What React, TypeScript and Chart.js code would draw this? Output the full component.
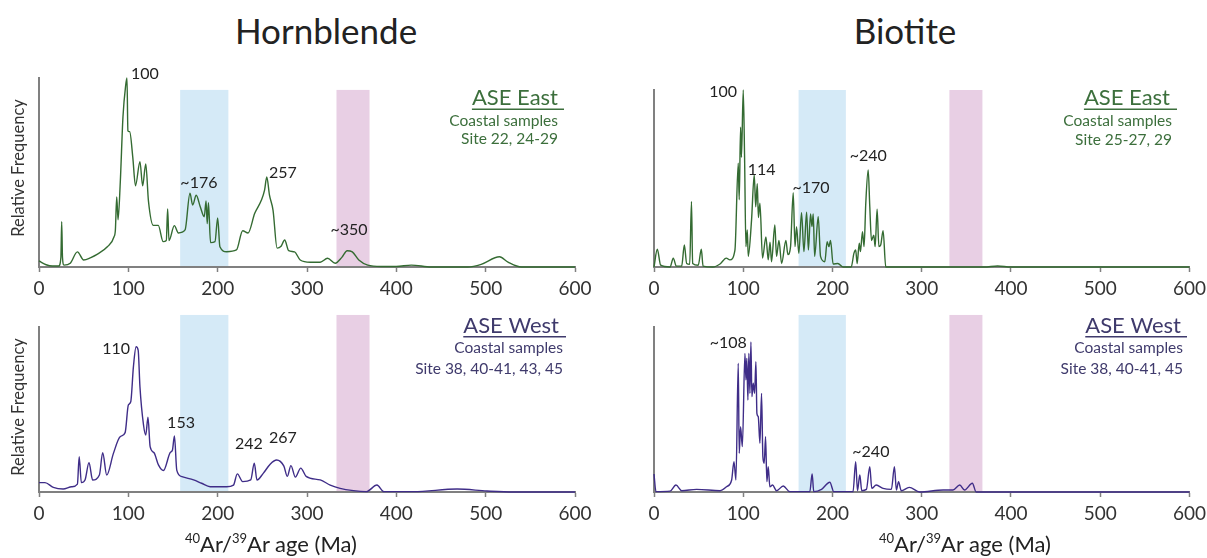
import React, { useEffect, useRef } from 'react';
import { Chart, registerables } from 'chart.js';

Chart.register(...registerables);
Chart.defaults.font.family = 'Lato';

// ---------- data ----------
const AGE_TICKS = [0, 100, 200, 300, 400, 500, 600];

const hbBlueBand = [158, 212];
const hbPinkBand = [333, 370];
const btBlueBand = [162, 215];
const btPinkBand = [331, 368];

// Hornblende, ASE East
const hbEastAge = [0, 8, 15, 22, 24.5, 25.4, 26.3, 28, 35, 43, 50, 58, 65, 76.5, 84, 85.5, 87, 88.5, 91, 94, 97, 98.5, 99.5, 101.5, 105, 108, 113, 116, 119.5, 122.5, 128, 133.5, 139, 142.5, 144, 145.5, 151.5, 156, 163.5, 169, 172, 176, 180.5, 185, 187, 188.3, 189.7, 192, 197, 200, 202.5, 210, 221, 228, 234, 241.5, 249, 252.5, 255, 258, 262, 266.5, 271, 275, 279.5, 286, 292.4, 303.6, 314.8, 323, 331.6, 339, 345, 350.7, 358, 368, 383, 400, 416.8, 439, 480, 495, 515.5, 525, 540, 600];
const hbEastFreq = [3.2, 1.2, 0.5, 0.5, 5, 24, 5, 1, 2, 8, 3.7, 5, 6.7, 10.7, 16, 19.6, 37, 25, 45, 79.5, 96, 100, 72, 71.6, 58, 43, 55.7, 43, 54.5, 35, 22, 22, 13.4, 14, 30.7, 14, 21.9, 18, 19.6, 39, 32.8, 38, 31.9, 26.6, 35, 23, 34, 12.9, 13.4, 26, 10.7, 8.1, 9, 19.2, 18, 28.4, 35.4, 40.7, 47.6, 38, 30, 10, 11, 14.3, 8.6, 8, 3.7, 2.5, 2.5, 4.6, 2, 5.1, 8.6, 8, 3.7, 1, 0.3, 0.3, 1, 0, 0, 1.4, 5.4, 2.6, 0, 0];

// Biotite, ASE East
const btEastAge = [0, 3.7, 7.5, 18, 21.6, 25, 31, 34, 36.6, 40, 42, 43.3, 49.6, 53, 55, 66, 74, 81, 85, 90.7, 94.4, 95.5, 97, 98, 100, 101.5, 103, 104.5, 105.6, 109.3, 112.3, 114, 115.7, 117, 118.7, 121.6, 125.4, 128, 130, 131.7, 135.4, 137.3, 140, 143, 147.8, 150, 153, 156, 158, 159.7, 162.3, 165.3, 168, 171, 173, 175.4, 177, 178.4, 180, 184, 186.6, 191.4, 194, 196, 197.8, 200.7, 206, 212, 221, 224, 226, 227.6, 230, 231.3, 233.6, 235.4, 237.3, 240, 241.8, 243.7, 246.3, 247.8, 250, 252, 254, 256.7, 259.7, 300, 370, 385, 400, 600];
const btEastFreq = [0, 10, 1, 0, 5, 0.5, 0.5, 12.4, 2, 1.5, 37, 2, 1, 10, 0.5, 0, 1.7, 5, 4, 9.6, 58.6, 38, 79, 62, 100, 62, 11.5, 21, 6, 26.5, 52, 34, 47, 28, 36, 5, 17, 4, 14, 3, 23.7, 6, 15, 2, 15, 7, 11.5, 42, 11.5, 22.8, 7.7, 30.7, 8.7, 31, 9.6, 30, 22.8, 30, 6, 28.4, 6, 3, 14.3, 11.5, 15, 1.7, 2, 0, 0, 7.7, 9.6, 2, 13.4, 8.7, 20, 11.5, 36, 54.8, 34, 15, 18, 11.5, 32.6, 11.5, 12.4, 20.5, 0, 0, 0, 0.6, 0, 0];

// Hornblende, ASE West
const hbWestAge = [0, 6.7, 16, 27, 36.6, 43, 45, 47.4, 51.5, 56, 60, 67.6, 71.3, 75.8, 83.3, 90.8, 96.4, 100, 102.7, 105.7, 108.7, 111, 113, 117, 119.5, 122, 124.4, 128.8, 133.7, 139.3, 146.8, 149.4, 151.6, 154.2, 160, 173, 182, 191.6, 210, 217.7, 222, 228, 237, 241, 244, 251, 259, 266, 274, 278, 282, 287, 293, 299, 314.8, 326, 337, 352, 366.4, 378.3, 386, 419.4, 468, 501.6, 531, 600];
const hbWestFreq = [5.7, 5.7, 2.8, 1.8, 3.2, 4.8, 21.4, 5.7, 7.3, 17.8, 7.3, 10.3, 23.8, 10.3, 23.4, 33.5, 36, 52.7, 54.7, 76, 88, 86, 63.8, 40.6, 34.5, 45.3, 27.5, 23.8, 16.4, 13, 23.8, 25.5, 34, 13.3, 9.3, 7.3, 5.3, 3.2, 3.2, 4.2, 11, 6.3, 7.3, 17.4, 7.3, 11.3, 17, 19.4, 15.8, 9.5, 16, 9, 14.5, 9.5, 7.3, 4.2, 2.2, 0.8, 0.2, 4.2, 0.2, 0.2, 1.8, 0.6, 0, 0];

// Biotite, ASE West
const btWestAge = [0, 2.2, 18, 24.6, 31, 47.8, 74, 81.3, 87, 89.6, 91.8, 94.4, 95.5, 97, 99, 101.9, 103, 104, 105.2, 106.3, 107.5, 108.6, 109.7, 111.2, 112.7, 114.2, 115.3, 116.8, 118.7, 120.5, 122, 123.5, 125, 126.5, 128, 129.8, 132.8, 137.3, 144.8, 152.2, 174.6, 177.2, 179, 187.7, 197, 201.5, 223, 226, 228, 230.6, 232.8, 238, 241.8, 244, 249, 256.7, 266, 269.4, 271.6, 274, 277, 286, 297.7, 324, 335, 342.6, 348, 356.7, 361, 600];
const btWestFreq = [10.9, 0.2, 0.5, 4.2, 0.8, 1.6, 0.8, 3.2, 7.3, 18.4, 7.3, 78, 23.4, 39.6, 27.5, 84, 68, 81, 55.8, 84, 59.8, 91, 57.8, 65.9, 59.8, 79, 47.7, 45.7, 29.5, 59.8, 21.4, 17.4, 33.5, 6.3, 15.4, 3.2, 4.2, 0.8, 3.6, 0.2, 0.2, 10.9, 0.2, 1.6, 5.9, 0.2, 0.2, 18.4, 0.8, 10.3, 0.8, 1.6, 15.4, 2.2, 4.2, 2.2, 1.6, 15.4, 1.2, 6.3, 0.8, 2.8, 0, 1.2, 1.2, 4.2, 1.2, 5.3, 0, 0];

// peak labels: text, age, freq
const hbEastPeakText = ['100', '~176', '257', '~350'];
const hbEastPeakAge = [103, 179, 273, 347];
const hbEastPeakFreq = [102, 44.4, 50, 19.6];

const btEastPeakText = ['100', '114', '~170', '~240'];
const btEastPeakAge = [93, 105, 176, 240];
const btEastPeakFreq = [99, 55, 45, 63];

const hbWestPeakText = ['110', '153', '242', '267'];
const hbWestPeakAge = [102, 159, 235, 273];
const hbWestPeakFreq = [87, 42, 29, 33];

const btWestPeakText = ['~108', '~240'];
const btWestPeakAge = [104, 243];
const btWestPeakFreq = [90.5, 24.4];

// ---------- styling ----------
const GREEN_LINE = '#346b32';
const GREEN_TEXT = '#3c6f3c';
const PURPLE_LINE = '#3f2d88';
const PURPLE_TEXT = '#3f3a6c';
const BLUE_FILL = '#d5eaf7';
const PINK_FILL = '#e8cfe4';
const AXIS_GREY = '#808080';

type PanelCfg = {
  left: number; top: number; width: number; height: number;
  padTop: number; padRight: number; yAxisWidth: number; xAxisHeight: number;
  ages: number[]; freqs: number[]; lineColor: string; textColor: string;
  blue: number[]; pink: number[]; bandTop: number;
  peakText: string[]; peakAge: number[]; peakFreq: number[]; peakAlign: CanvasTextAlign[];
  legendTitle: string; legendLines: string[];
  titleRight: number; underlineRight: number; subRight: number;
  titleBase: number; underlineY: number; subY: number[];
};

const panels: PanelCfg[] = [
  {
    left: 0, top: 60, width: 600, height: 250, padTop: 18, padRight: 25, yAxisWidth: 39, xAxisHeight: 43,
    ages: hbEastAge, freqs: hbEastFreq, lineColor: GREEN_LINE, textColor: GREEN_TEXT,
    blue: hbBlueBand, pink: hbPinkBand, bandTop: 93.7,
    peakText: hbEastPeakText, peakAge: hbEastPeakAge, peakFreq: hbEastPeakFreq,
    peakAlign: ['left', 'center', 'center', 'center'],
    legendTitle: 'ASE East', legendLines: ['Coastal samples', 'Site 22, 24-29'],
    titleRight: 558, underlineRight: 564, subRight: 558, titleBase: 45, underlineY: 48.5, subY: [61, 79],
  },
  {
    left: 610, top: 60, width: 601, height: 250, padTop: 30, padRight: 21, yAxisWidth: 44, xAxisHeight: 43,
    ages: btEastAge, freqs: btEastFreq, lineColor: GREEN_LINE, textColor: GREEN_TEXT,
    blue: btBlueBand, pink: btPinkBand, bandTop: 100,
    peakText: btEastPeakText, peakAge: btEastPeakAge, peakFreq: btEastPeakFreq,
    peakAlign: ['right', 'left', 'center', 'center'],
    legendTitle: 'ASE East', legendLines: ['Coastal samples', 'Site 25-27, 29'],
    titleRight: 560, underlineRight: 567, subRight: 562, titleBase: 45, underlineY: 48.5, subY: [61, 80],
  },
  {
    left: 0, top: 300, width: 600, height: 258, padTop: 27, padRight: 25, yAxisWidth: 39, xAxisHeight: 66,
    ages: hbWestAge, freqs: hbWestFreq, lineColor: PURPLE_LINE, textColor: PURPLE_TEXT,
    blue: hbBlueBand, pink: hbPinkBand, bandTop: 107.3,
    peakText: hbWestPeakText, peakAge: hbWestPeakAge, peakFreq: hbWestPeakFreq,
    peakAlign: ['right', 'center', 'center', 'center'],
    legendTitle: 'ASE West', legendLines: ['Coastal samples', 'Site 38, 40-41, 43, 45'],
    titleRight: 559, underlineRight: 566, subRight: 563, titleBase: 33, underlineY: 36, subY: [48, 69],
  },
  {
    left: 610, top: 300, width: 601, height: 258, padTop: 27, padRight: 21, yAxisWidth: 44, xAxisHeight: 66,
    ages: btWestAge, freqs: btWestFreq, lineColor: PURPLE_LINE, textColor: PURPLE_TEXT,
    blue: btBlueBand, pink: btPinkBand, bandTop: 107.3,
    peakText: btWestPeakText, peakAge: btWestPeakAge, peakFreq: btWestPeakFreq,
    peakAlign: ['right', 'center'],
    legendTitle: 'ASE West', legendLines: ['Coastal samples', 'Site 38, 40-41, 45'],
    titleRight: 571, underlineRight: 577, subRight: 573, titleBase: 33, underlineY: 36, subY: [48, 69],
  },
];

function Panel({ cfg }: { cfg: PanelCfg }) {
  const ref = useRef<HTMLCanvasElement>(null);
  useEffect(() => {
    if (!ref.current) return;
    const decor = {
      id: 'decor',
      beforeDraw(chart: any) {
        const { ctx, scales } = chart;
        const xs = scales.x, ys = scales.y;
        const y0 = ys.getPixelForValue(0);
        const yt = ys.getPixelForValue(cfg.bandTop);
        ctx.save();
        ctx.fillStyle = BLUE_FILL;
        const b0 = xs.getPixelForValue(cfg.blue[0]), b1 = xs.getPixelForValue(cfg.blue[1]);
        ctx.fillRect(b0, yt, b1 - b0, y0 - yt);
        ctx.fillStyle = PINK_FILL;
        const p0 = xs.getPixelForValue(cfg.pink[0]), p1 = xs.getPixelForValue(cfg.pink[1]);
        ctx.fillRect(p0, yt, p1 - p0, y0 - yt);
        ctx.restore();
      },
      afterDraw(chart: any) {
        const { ctx, scales } = chart;
        const xs = scales.x, ys = scales.y;
        ctx.save();
        // peak labels
        ctx.fillStyle = '#222';
        ctx.font = '16px Lato';
        ctx.textBaseline = 'middle';
        cfg.peakText.forEach((t, i) => {
          ctx.textAlign = cfg.peakAlign[i];
          ctx.fillText(t, xs.getPixelForValue(cfg.peakAge[i]), ys.getPixelForValue(cfg.peakFreq[i]));
        });
        // legend
        ctx.fillStyle = cfg.textColor;
        ctx.font = '22px Lato';
        ctx.textAlign = 'right';
        ctx.textBaseline = 'alphabetic';
        ctx.fillText(cfg.legendTitle, cfg.titleRight, cfg.titleBase);
        const w = ctx.measureText(cfg.legendTitle).width;
        ctx.fillRect(cfg.titleRight - w, cfg.underlineY, cfg.underlineRight - cfg.titleRight + w, 1.5);
        ctx.font = '15.5px Lato';
        ctx.textBaseline = 'middle';
        cfg.legendLines.forEach((l, i) => ctx.fillText(l, cfg.subRight, cfg.subY[i]));
        ctx.restore();
      },
    };
    const chart = new Chart(ref.current, {
      type: 'line',
      data: {
        datasets: [{
          data: cfg.ages.map((a, i) => ({ x: a, y: cfg.freqs[i] })),
          borderColor: cfg.lineColor,
          borderWidth: 1.4,
          pointRadius: 0,
          cubicInterpolationMode: 'monotone',
          clip: false as any,
          fill: false,
        }],
      },
      options: {
        animation: false,
        responsive: false,
        maintainAspectRatio: false,
        events: [],
        layout: { padding: { top: cfg.padTop, right: cfg.padRight, left: 0, bottom: 0 } },
        plugins: { legend: { display: false }, tooltip: { enabled: false }, title: { display: false } },
        scales: {
          x: {
            type: 'linear', min: 0, max: 600,
            afterBuildTicks: (s: any) => { s.ticks = AGE_TICKS.map((v) => ({ value: v })); },
            afterFit: (s: any) => { s.height = cfg.xAxisHeight; },
            ticks: { font: { size: 19 }, color: '#333', padding: 5, maxRotation: 0, autoSkip: false },
            grid: { display: true, drawOnChartArea: false, drawTicks: true, tickLength: 5, tickColor: AXIS_GREY, tickWidth: 1.5 },
            border: { display: true, color: AXIS_GREY, width: 2 },
          },
          y: {
            min: 0, max: 100,
            afterFit: (s: any) => { s.width = cfg.yAxisWidth; },
            ticks: { display: false },
            grid: { display: false },
            border: { display: true, color: AXIS_GREY, width: 2 },
          },
        },
      },
      plugins: [decor],
    } as any);
    return () => chart.destroy();
  }, [cfg]);
  return (
    <canvas
      ref={ref}
      width={cfg.width}
      height={cfg.height}
      style={{ position: 'absolute', left: cfg.left, top: cfg.top, width: cfg.width, height: cfg.height }}
    />
  );
}

const supStyle: React.CSSProperties = { fontSize: 13, position: 'relative', top: -9 };

function AxisTitle({ center }: { center: number }) {
  return (
    <div style={{ position: 'absolute', left: center - 150, width: 300, top: 533, textAlign: 'center', fontSize: 22, lineHeight: '22px', color: '#222', whiteSpace: 'nowrap' }}>
      <span style={supStyle}>40</span>Ar/<span style={supStyle}>39</span>Ar age (Ma)
    </div>
  );
}

function YTitle({ cy }: { cy: number }) {
  return (
    <div style={{ position: 'absolute', left: 18, top: cy, transform: 'translate(-50%, -50%) rotate(-90deg)', whiteSpace: 'nowrap', fontSize: 16.5, lineHeight: '18px', color: '#333' }}>
      Relative Frequency
    </div>
  );
}

export default function App() {
  return (
    <div style={{ position: 'absolute', left: 0, top: 0, width: 1207, height: 558, background: '#fff', fontFamily: 'Lato', overflow: 'hidden' }}>
      {panels.map((p, i) => <Panel key={i} cfg={p} />)}
      <div style={{ position: 'absolute', left: 226, width: 200, top: 13, textAlign: 'center', fontSize: 35, lineHeight: '35px', color: '#222' }}>Hornblende</div>
      <div style={{ position: 'absolute', left: 805, width: 200, top: 13, textAlign: 'center', fontSize: 35, lineHeight: '35px', color: '#222' }}>Biotite</div>
      <YTitle cy={168} />
      <YTitle cy={407} />
      <AxisTitle center={271} />
      <AxisTitle center={965} />
    </div>
  );
}
